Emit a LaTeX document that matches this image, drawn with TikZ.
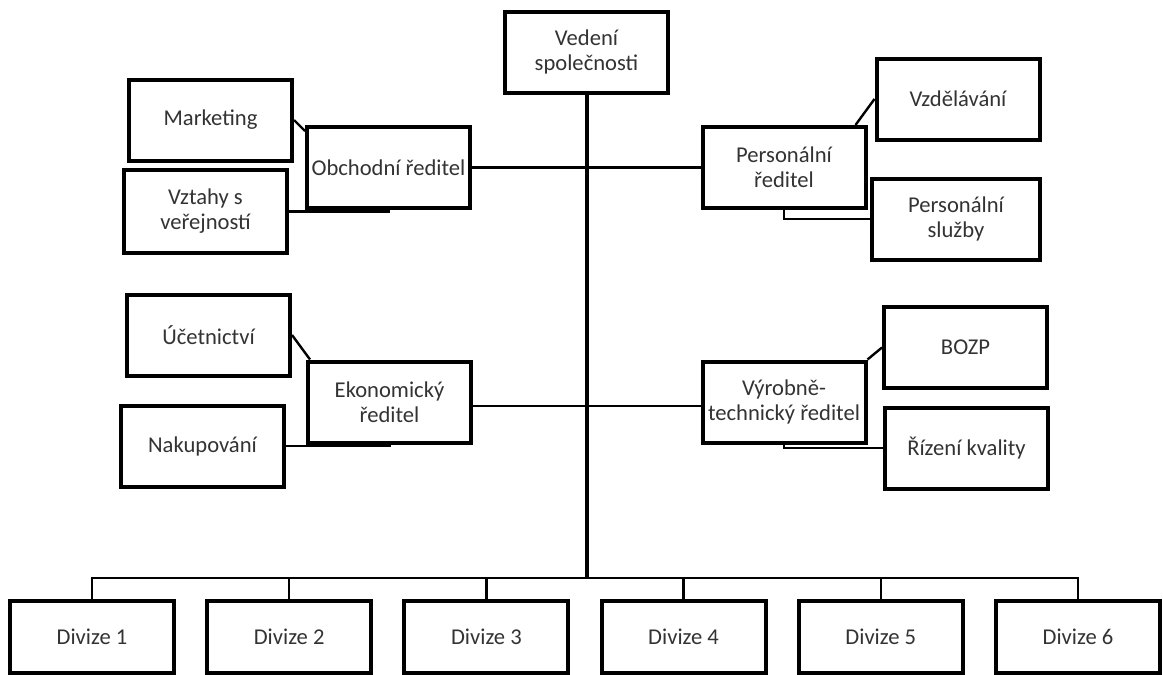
\documentclass[tikz,border=0pt]{standalone}
\usepackage{fontspec}
\setmainfont{Carlito}
\usetikzlibrary{backgrounds}
\begin{document}
\begin{tikzpicture}[x=.5pt,y=-.5pt,
  box/.style={draw,line width=2pt,fill=white,minimum width=81.5pt,minimum height=40.5pt,inner sep=0pt,align=center,text=black!80,font=\fontsize{11.3}{12.5}\selectfont},
  link/.style={line width=1.2pt},
  trunk/.style={line width=2pt}]
\useasboundingbox (0,0) rectangle (1163,675);
\node[box] (vedeni) at (586.5,52) {Vedení\\společnosti};
% left side
\node[box] (obchod) at (388.5,167.5) {Obchodní ředitel};
\node[box] (marketing) at (210.5,120) {Marketing};
\node[box,minimum height=41.5pt] (vztahy) at (205.5,211.5) {Vztahy s\\veřejností};
\node[box] (ekonom) at (389.5,402) {Ekonomický\\ředitel};
\node[box] (ucetni) at (208.5,335) {Účetnictví};
\node[box] (nakup) at (202.5,446) {Nakupování};
% right side
\node[box] (personal) at (784,167.5) {Personální\\ředitel};
\node[box] (vzdel) at (958,99) {Vzdělávání};
\node[box,minimum width=84pt] (sluzby) at (956,219) {Personální\\služby};
\node[box] (vyroba) at (784,402) {Výrobně-\\technický ředitel};
\node[box] (bozp) at (965.5,347.5) {BOZP};
\node[box] (rizeni) at (966.5,448) {Řízení kvality};
% divisions
\foreach \i in {1,...,6}\node[box,minimum width=82pt,minimum height=36pt] (div\i) at ({92+197.2*(\i-1)},637) {Divize \i};
\coordinate (bus) at (586.5,578);
\begin{scope}[on background layer]
\draw[trunk] (vedeni.south) -- (bus);
\draw[link] (obchod.east) -- (obchod.east -| vedeni.south);
\draw[link] (personal.west) -- (personal.west -| vedeni.south);
\draw[link] ([yshift=-2pt]ekonom.east) -- ([yshift=-2pt]ekonom.east -| vedeni.south);
\draw[link] ([yshift=-2pt]vyroba.west) -- ([yshift=-2pt]vyroba.west -| vedeni.south);
\draw[link] (marketing.east) -- ([yshift=-3pt]obchod.north west);
\draw[link] (obchod.south) |- (vztahy.east);
\draw[link] (ucetni.east) -- ([xshift=2pt]ekonom.north west);
\draw[link] (ekonom.south) |- (nakup.east);
\draw[link] ([xshift=-6pt]personal.north east) -- (vzdel.west);
\draw[link] (personal.south) |- (sluzby.west);
\draw[link] (vyroba.north east) -- (bozp.west);
\draw[link] (vyroba.south) |- (rizeni.west);
\draw[link] (div1.north) -- (div1.north |- bus) -- (div6.north |- bus) -- (div6.north);
\foreach \i in {2,...,5}\draw[link] (div\i.north) -- (div\i.north |- bus);
\end{scope}
\end{tikzpicture}
\end{document}
